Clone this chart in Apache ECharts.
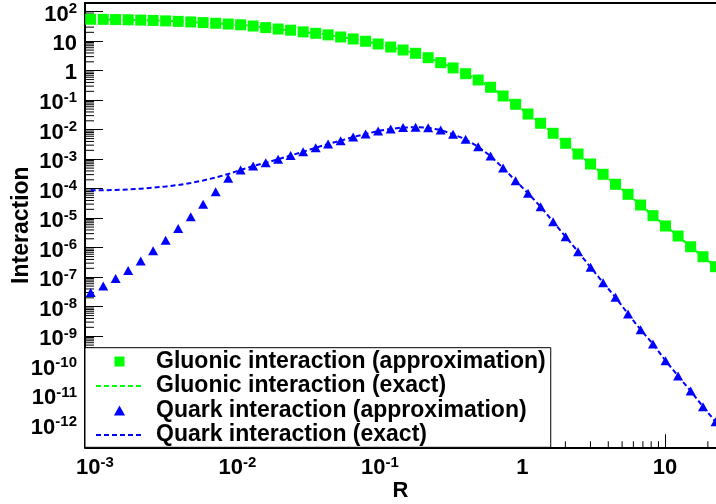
<!DOCTYPE html>
<html>
<head>
<meta charset="utf-8">
<title>Interaction vs R</title>
<script src="https://cdn.jsdelivr.net/npm/echarts@6/dist/echarts.min.js"></script>
<style>
  html, body { margin: 0; padding: 0; background: #fff; }
  #chart { width: 716px; height: 504px; }
</style>
</head>
<body>
<div id="chart"></div>
<script>
// R values, shared by the four curves
const rValues = [
  0.000933, 0.001143, 0.001396, 0.001710, 0.002094, 0.002559, 0.003133, 0.003837, 0.004699, 0.005741,
  0.007031, 0.008610, 0.01052, 0.01288, 0.01578, 0.01928, 0.02360, 0.02891, 0.03540, 0.04325,
  0.05297, 0.06486, 0.07925, 0.09705, 0.1189, 0.1452, 0.1778, 0.2178, 0.2667, 0.3258,
  0.3990, 0.4887, 0.5970, 0.7311, 0.8954, 1.094, 1.340, 1.641, 2.009, 2.455,
  3.006, 3.681, 4.498, 5.508, 6.745, 8.241, 10.09, 12.36, 15.14, 18.49,
  22.65
];

// gluonic interaction (approximation), read off the squares
const gluonApprox = [
  55.5, 55.0, 54.2, 53.2, 52.0, 50.5, 48.9, 47.0, 45.0, 42.8,
  40.5, 38.2, 36.0, 32.7, 28.9, 25.9, 23.6, 20.7, 18.5, 16.4,
  13.9, 11.9, 9.93, 8.04, 6.35, 5.04, 3.89, 2.76, 1.87, 1.24,
  0.791, 0.484, 0.274, 0.139, 0.0726, 0.0340, 0.0165, 0.00755, 0.00346, 0.00150,
  6.87e-4, 3.08e-4, 1.41e-4, 6.46e-5, 2.80e-5, 1.22e-5, 5.45e-6, 2.49e-6, 1.08e-6, 4.95e-7,
  2.27e-7
];

// gluonic interaction (exact): lies on top of the approximation
const gluonExact = [
  55.5, 55.0, 54.2, 53.2, 52.0, 50.5, 48.9, 47.0, 45.0, 42.8,
  40.5, 38.2, 36.0, 32.7, 28.9, 25.9, 23.6, 20.7, 18.5, 16.4,
  13.9, 11.9, 9.93, 8.04, 6.35, 5.04, 3.89, 2.76, 1.87, 1.24,
  0.791, 0.484, 0.274, 0.139, 0.0726, 0.0340, 0.0165, 0.00755, 0.00346, 0.00150,
  6.87e-4, 3.08e-4, 1.41e-4, 6.46e-5, 2.80e-5, 1.22e-5, 5.45e-6, 2.49e-6, 1.08e-6, 4.95e-7,
  2.27e-7
];

// quark interaction (approximation), read off the triangles
const quarkApprox = [
  3.03e-8, 5.04e-8, 9.04e-8, 1.69e-7, 3.54e-7, 7.91e-7, 1.78e-6, 4.48e-6, 1.12e-5, 2.96e-5,
  7.91e-5, 2.25e-4, 4.31e-4, 5.87e-4, 7.60e-4, 9.93e-4, 1.33e-3, 1.79e-3, 2.45e-3, 3.27e-3,
  4.24e-3, 5.66e-3, 7.14e-3, 9.04e-3, 1.06e-2, 1.19e-2, 1.21e-2, 1.17e-2, 9.77e-3, 6.98e-3,
  4.73e-3, 2.65e-3, 1.28e-3, 5.04e-4, 1.87e-4, 6.98e-5, 2.45e-5, 7.60e-6, 2.36e-6, 7.31e-7,
  2.17e-7, 6.52e-8, 2.08e-8, 5.66e-9, 1.66e-9, 5.45e-10, 1.48e-10, 4.48e-11, 1.39e-11, 4.07e-12,
  1.26e-12
];

// quark interaction (exact), dashed line
const quarkExact = [
  8.83e-5, 8.89e-5, 9.04e-5, 9.40e-5, 1.00e-4, 1.08e-4, 1.19e-4, 1.33e-4, 1.56e-4, 1.90e-4,
  2.40e-4, 3.15e-4, 4.31e-4, 5.87e-4, 7.60e-4, 9.93e-4, 1.33e-3, 1.79e-3, 2.45e-3, 3.27e-3,
  4.24e-3, 5.66e-3, 7.14e-3, 9.04e-3, 1.06e-2, 1.19e-2, 1.21e-2, 1.17e-2, 9.77e-3, 6.98e-3,
  4.73e-3, 2.65e-3, 1.28e-3, 5.04e-4, 1.87e-4, 6.98e-5, 2.45e-5, 7.60e-6, 2.36e-6, 7.31e-7,
  2.17e-7, 6.52e-8, 2.08e-8, 5.66e-9, 1.66e-9, 5.45e-10, 1.48e-10, 4.48e-11, 1.39e-11, 4.07e-12,
  1.26e-12
];

const seriesNames = [
  'Gluonic interaction (approximation)',
  'Gluonic interaction (exact)',
  'Quark interaction (approximation)',
  'Quark interaction (exact)'
];

const minorMantissas = [2, 3, 4, 5, 6, 7, 8, 9];

const FONT = "'Liberation Sans', Arial, Helvetica, sans-serif";

// frame geometry (px) and scale of each log axis
const frameLeft = 85, frameTop = 3, frameBottom = 447.3;
const xDecade = 142.5, yDecade = 29.5;
const xMinLog = -3.07, yMaxLog = 2.295;
const xMaxLog = xMinLog + (716 - frameLeft) / xDecade;
const yMinLog = yMaxLog - (frameBottom - frameTop) / yDecade;
const xMin = Math.pow(10, xMinLog), xMax = Math.pow(10, xMaxLog);
const yMin = Math.pow(10, yMinLog), yMax = Math.pow(10, yMaxLog);

// the tick axes start at a power of ten so that interval 1 lands on decades
const xTickLeft = frameLeft + (-3 - xMinLog) * xDecade;
const xTickMax = Math.pow(10, -3 + (716 + 1 - xTickLeft) / xDecade);
const yTickBottom = frameTop + (yMaxLog + 12) * yDecade;

const pairs = (ys) => rValues.map((r, i) => [r, ys[i]]);

const minorTicks = (lo, hi) => {
  const out = [];
  for (let d = Math.floor(Math.log10(lo)); d <= Math.ceil(Math.log10(hi)); d++) {
    minorMantissas.forEach((m) => {
      const v = m * Math.pow(10, d);
      if (v > lo && v < hi) out.push(v);
    });
  }
  return out;
};

/** 10^n labels */
const powerLabel = (value) => {
  const lg = Math.log10(value);
  const e = Math.round(lg);
  if (Math.abs(lg - e) > 1e-6) return '';
  if (e === 0) return '{p|1}';
  if (e === 1) return '{p|10}';
  return '{b|10}{e|' + e + '}';
};

// every token is 28px tall, so the padding alone places base and exponent
const txt = { fontWeight: 'bold', fontFamily: FONT, color: '#000' };
const labelRich = {
  b: Object.assign({ fontSize: 22, lineHeight: 22, padding: [6, 0, 0, 0] }, txt),
  e: Object.assign({ fontSize: 15, lineHeight: 15, padding: [4, 0, 9, 0] }, txt),
  p: Object.assign({ fontSize: 22, lineHeight: 22, padding: [5.5, 0, 0.5, 0] }, txt)
};

const blackLine = { show: true, onZero: false, lineStyle: { color: '#000', width: 2 } };
const noLine = { show: false };

const chart = echarts.init(document.getElementById('chart'), null, { renderer: 'canvas' });

const option = {
  animation: false,
  backgroundColor: '#fff',
  grid: [
    // data frame
    { left: frameLeft, top: frameTop, right: 0, bottom: 504 - frameBottom, outerBoundsMode: 'none', containLabel: false },
    // y decade ticks + labels
    { left: frameLeft, top: frameTop, right: 0, bottom: 504 - yTickBottom, outerBoundsMode: 'none', containLabel: false },
    // x decade ticks + labels
    { left: xTickLeft, top: frameTop, right: -1, bottom: 504 - frameBottom, outerBoundsMode: 'none', containLabel: false }
  ],
  xAxis: [
    {
      gridIndex: 0, type: 'log', logBase: 10, min: xMin, max: xMax,
      axisLine: blackLine, axisTick: { show: false }, axisLabel: { show: false }, splitLine: { show: false },
      name: 'R', nameLocation: 'middle', nameGap: 33, nameMoveOverlap: false,
      nameTextStyle: { fontSize: 22, fontWeight: 'bold', fontFamily: FONT, color: '#000' }
    },
    {
      gridIndex: 0, type: 'log', logBase: 10, min: xMin, max: xMax, position: 'top',
      axisLine: blackLine, axisTick: { show: false }, axisLabel: { show: false }, splitLine: { show: false }
    },
    { gridIndex: 1, type: 'value', show: false },
    {
      gridIndex: 2, type: 'log', logBase: 10, min: 1e-3, max: xTickMax, interval: 1,
      axisLine: noLine,
      axisTick: { show: true, inside: true, length: 13, lineStyle: { color: '#000', width: 1 } },
      axisLabel: {
        show: true, margin: 7, formatter: powerLabel, rich: labelRich,
        showMinLabel: true, showMaxLabel: false, hideOverlap: false
      },
      splitLine: { show: false }
    }
  ],
  yAxis: [
    {
      gridIndex: 0, type: 'log', logBase: 10, min: yMin, max: yMax,
      axisLine: blackLine, axisTick: { show: false }, axisLabel: { show: false }, splitLine: { show: false },
      name: 'Interaction', nameLocation: 'middle', nameGap: 52, nameMoveOverlap: false,
      nameTextStyle: { fontSize: 23, fontWeight: 'bold', fontFamily: FONT, color: '#000' }
    },
    {
      gridIndex: 1, type: 'log', logBase: 10, min: 1e-12, max: yMax, interval: 1,
      axisLine: noLine,
      axisTick: { show: true, inside: true, length: 18, lineStyle: { color: '#000', width: 1 } },
      axisLabel: {
        show: true, margin: 8, formatter: powerLabel, rich: labelRich,
        showMinLabel: true, showMaxLabel: false, hideOverlap: false
      },
      splitLine: { show: false }
    },
    { gridIndex: 2, type: 'value', show: false }
  ],
  legend: {
    orient: 'vertical',
    left: frameLeft,
    top: 347.7,
    padding: [1.8, 5, 0.3, 10],
    itemGap: 0.5,
    itemWidth: 47,
    itemHeight: 10,
    backgroundColor: '#fff',
    borderColor: '#000',
    borderWidth: 1,
    borderRadius: 0,
    selectedMode: false,
    data: [
      { name: seriesNames[0], icon: 'path://M0,0h10v10h-10z', symbolKeepAspect: true, itemStyle: { opacity: 1 } },
      { name: seriesNames[1], itemStyle: { opacity: 0 } },
      { name: seriesNames[2], icon: 'path://M5,0L10,9L0,9z', symbolKeepAspect: true, itemStyle: { opacity: 1 } },
      { name: seriesNames[3], itemStyle: { opacity: 0 } }
    ],
    textStyle: {
      fontSize: 23, fontWeight: 'bold', fontFamily: FONT, color: '#000',
      lineHeight: 24, padding: [0, 0, 0, 8]
    }
  },
  series: [
    {
      name: seriesNames[0], type: 'scatter', xAxisIndex: 0, yAxisIndex: 0,
      symbol: 'rect', symbolSize: 11,
      itemStyle: { color: '#00ff00', opacity: 1 },
      emphasis: { disabled: true },
      data: pairs(gluonApprox), z: 4
    },
    {
      name: seriesNames[1], type: 'line', xAxisIndex: 0, yAxisIndex: 0,
      symbol: 'none', showSymbol: false,
      lineStyle: { color: '#00ff00', width: 2, type: [5, 3] },
      itemStyle: { color: '#00ff00' },
      data: pairs(gluonExact), z: 3
    },
    {
      name: seriesNames[2], type: 'scatter', xAxisIndex: 0, yAxisIndex: 0,
      symbol: 'triangle', symbolSize: [10, 9],
      itemStyle: { color: '#0000ff', opacity: 1 },
      emphasis: { disabled: true },
      data: pairs(quarkApprox), z: 4
    },
    {
      name: seriesNames[3], type: 'line', xAxisIndex: 0, yAxisIndex: 0,
      symbol: 'none', showSymbol: false,
      lineStyle: { color: '#0000ff', width: 2, type: [5, 3] },
      itemStyle: { color: '#0000ff' },
      data: pairs(quarkExact), z: 3
    },
    // minor ticks (2..9 in each decade) on the y axis
    {
      type: 'custom', xAxisIndex: 0, yAxisIndex: 0, silent: true, z: 1,
      data: minorTicks(yMin, yMax).map((v) => [xMin * 1.0001, v]),
      renderItem: (params, api) => {
        const cs = params.coordSys;
        const y = api.coord([api.value(0), api.value(1)])[1];
        return { type: 'line', shape: { x1: cs.x, y1: y, x2: cs.x + 9, y2: y }, style: { stroke: '#000', lineWidth: 1 } };
      }
    },
    // minor ticks on the x axis
    {
      type: 'custom', xAxisIndex: 0, yAxisIndex: 0, silent: true, z: 1,
      data: minorTicks(xMin, xMax).map((v) => [v, yMin * 1.0001]),
      renderItem: (params, api) => {
        const cs = params.coordSys;
        const x = api.coord([api.value(0), api.value(1)])[0];
        const b = cs.y + cs.height;
        return { type: 'line', shape: { x1: x, y1: b, x2: x, y2: b - 6 }, style: { stroke: '#000', lineWidth: 1 } };
      }
    }
  ]
};

chart.setOption(option);
</script>
</body>
</html>
